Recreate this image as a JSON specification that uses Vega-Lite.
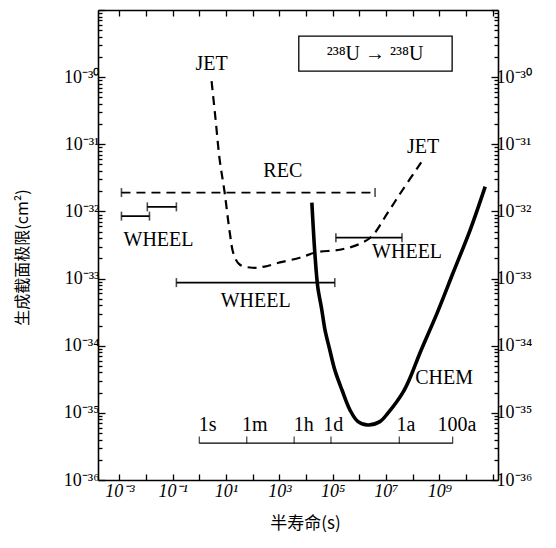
{
  "$schema": "https://vega.github.io/schema/vega-lite/v6.json",
  "width": 400,
  "height": 470,
  "autosize": {"type": "none"},
  "padding": {"left": 98, "top": 10, "right": 58, "bottom": 68},
  "background": "white",
  "config": {
    "view": {"stroke": null},
    "font": "Liberation Serif",
    "axis": {"domainColor": "black", "tickColor": "black", "labelColor": "black", "titleColor": "black", "grid": false, "domainWidth": 1.6, "tickWidth": 1.3, "labelFont": "Liberation Serif", "labelFontSize": 18, "titleFontWeight": "normal"}
  },
  "datasets": {
    "chem": [
      {"t": 1.66e4, "s": 1.35e-32}, {"t": 1.82e4, "s": 6.92e-33}, {"t": 2.14e4, "s": 2.45e-33}, {"t": 2.75e4, "s": 7.59e-34},
      {"t": 3.89e4, "s": 3.47e-34}, {"t": 5.13e4, "s": 1.74e-34}, {"t": 7.76e4, "s": 8.71e-35}, {"t": 1.2e5, "s": 4.37e-35},
      {"t": 2.24e5, "s": 2.19e-35}, {"t": 4.47e5, "s": 1.10e-35}, {"t": 8.91e5, "s": 7.41e-36}, {"t": 2.09e6, "s": 6.61e-36},
      {"t": 5.89e6, "s": 7.41e-36}, {"t": 1.2e7, "s": 1.0e-35}, {"t": 4.37e7, "s": 2.04e-35}, {"t": 7.94e7, "s": 3.31e-35},
      {"t": 1.91e8, "s": 7.94e-35}, {"t": 8.32e8, "s": 3.09e-34}, {"t": 3.31e9, "s": 1.23e-33}, {"t": 1.45e10, "s": 5.37e-33},
      {"t": 5.25e10, "s": 2.34e-32}
    ],
    "jet": [
      {"t": 2.88, "s": 8.71e-31}, {"t": 4.07, "s": 2.34e-31}, {"t": 5.75, "s": 6.03e-32}, {"t": 8.91, "s": 1.91e-32},
      {"t": 13.8, "s": 4.90e-33}, {"t": 19.5, "s": 2.29e-33}, {"t": 32.4, "s": 1.62e-33}, {"t": 100, "s": 1.45e-33},
      {"t": 282, "s": 1.51e-33}, {"t": 1050, "s": 1.74e-33}, {"t": 5890, "s": 2.04e-33}, {"t": 2.34e4, "s": 2.45e-33},
      {"t": 1.86e5, "s": 2.69e-33}, {"t": 9.55e5, "s": 3.24e-33}, {"t": 2.95e6, "s": 4.27e-33}, {"t": 1.2e7, "s": 9.77e-33},
      {"t": 4.37e7, "s": 2.14e-32}, {"t": 2.09e8, "s": 5.37e-32}
    ],
    "ranges": [
      {"name": "REC", "x1": 1.2e-3, "x2": 3.89e6, "y": 1.91e-32, "style": "dashed"},
      {"name": "WHEEL", "x1": 1.2e-3, "x2": 1.35e-2, "y": 8.51e-33, "style": "solid"},
      {"name": "WHEEL", "x1": 1.12e-2, "x2": 0.138, "y": 1.17e-32, "style": "solid"},
      {"name": "WHEEL", "x1": 0.138, "x2": 1.2e5, "y": 8.71e-34, "style": "solid"},
      {"name": "WHEEL", "x1": 1.32e5, "x2": 3.98e7, "y": 4.07e-33, "style": "solid"}
    ],
    "scalebar": [{"x1": 1, "x2": 3.156e9, "y": 3.55e-36}],
    "scaleticks": [
      {"t": 1, "y": 3.55e-36}, {"t": 60, "y": 3.55e-36}, {"t": 3600, "y": 3.55e-36},
      {"t": 86400, "y": 3.55e-36}, {"t": 3.156e7, "y": 3.55e-36}, {"t": 3.156e9, "y": 3.55e-36}
    ],
    "labels": [
      {"text": "JET", "t": 2.9, "s": 1.55e-30},
      {"text": "JET", "t": 2.45e8, "s": 9.02e-32},
      {"text": "REC", "t": 1350, "s": 3.98e-32},
      {"text": "WHEEL", "t": 0.0295, "s": 3.8e-33},
      {"text": "WHEEL", "t": 129, "s": 4.57e-34},
      {"text": "WHEEL", "t": 6.17e7, "s": 2.45e-33},
      {"text": "CHEM", "t": 1.51e9, "s": 3.31e-35},
      {"text": "1s", "t": 2.04, "s": 6.6e-36},
      {"text": "1m", "t": 120, "s": 6.6e-36},
      {"text": "1h", "t": 8300, "s": 6.6e-36},
      {"text": "1d", "t": 1.05e5, "s": 6.6e-36},
      {"text": "1a", "t": 5.6e7, "s": 6.6e-36},
      {"text": "100a", "t": 4.6e9, "s": 6.6e-36},
      {"text": "²³⁸U → ²³⁸U", "t": 3.89e6, "s": 2.19e-30}
    ],
    "box": [{"x1": 5370, "x2": 3.02e9, "y1": 1.23e-30, "y2": 4.07e-30}]
  },
  "resolve": {"axis": {"x": "independent", "y": "independent"}},
  "layer": [
    {
      "data": {"name": "chem"},
      "mark": {"type": "line", "stroke": "black", "strokeWidth": 3.6, "interpolate": "catmull-rom"},
      "encoding": {
        "x": {"field": "t", "type": "quantitative", "scale": {"type": "log", "domain": [1.585e-4, 1.585e11], "nice": false},
          "axis": {"orient": "bottom", "title": "半寿命(s)", "titleFont": "Noto Sans CJK SC", "titleFontSize": 17, "titleX": 207, "titleY": 43, "titleBaseline": "middle",
            "values": [1e-3, 1e-2, 1e-1, 1, 10, 100, 1e3, 1e4, 1e5, 1e6, 1e7, 1e8, 1e9, 1e10, 1e11],
            "labelExpr": "['10⁻³','','10⁻¹','','10¹','','10³','','10⁵','','10⁷','','10⁹','',''][round(log(datum.value)/LN10)+3]",
            "labelFontStyle": "italic", "tickSize": -6, "labelPadding": 8, "labelFlush": false, "labelOverlap": false}},
        "y": {"field": "s", "type": "quantitative", "scale": {"type": "log", "domain": [1e-36, 1e-29], "nice": false},
          "axis": {"orient": "left", "title": "生成截面极限(cm²)", "titleFont": "Noto Sans CJK SC", "titleFontSize": 16, "titleX": -76, "titleY": 247, "titleBaseline": "middle",
            "values": [1e-36, 1e-35, 1e-34, 1e-33, 1e-32, 1e-31, 1e-30, 1e-29],
            "labelExpr": "['10⁻³⁶','10⁻³⁵','10⁻³⁴','10⁻³³','10⁻³²','10⁻³¹','10⁻³⁰',''][round(log(datum.value)/LN10)+36]",
            "tickSize": -7, "labelPadding": 6, "labelFlush": false, "labelOverlap": false}}
      }
    },
    {
      "data": {"name": "jet"},
      "mark": {"type": "line", "stroke": "black", "strokeWidth": 2.2, "strokeDash": [9, 6], "interpolate": "catmull-rom"},
      "encoding": {
        "x": {"field": "t", "type": "quantitative", "axis": {"orient": "top", "title": null, "labels": false, "tickSize": -6,
          "values": [1e-3, 1e-2, 1e-1, 1, 10, 100, 1e3, 1e4, 1e5, 1e6, 1e7, 1e8, 1e9, 1e10, 1e11]}},
        "y": {"field": "s", "type": "quantitative", "axis": {"orient": "left", "title": null, "labels": false, "domain": false, "tickSize": -4,
          "values": [2e-36,3e-36,4e-36,5e-36,6e-36,7e-36,8e-36,9e-36,2e-35,3e-35,4e-35,5e-35,6e-35,7e-35,8e-35,9e-35,2e-34,3e-34,4e-34,5e-34,6e-34,7e-34,8e-34,9e-34,2e-33,3e-33,4e-33,5e-33,6e-33,7e-33,8e-33,9e-33,2e-32,3e-32,4e-32,5e-32,6e-32,7e-32,8e-32,9e-32,2e-31,3e-31,4e-31,5e-31,6e-31,7e-31,8e-31,9e-31,2e-30,3e-30,4e-30,5e-30,6e-30,7e-30,8e-30,9e-30]}}
      }
    },
    {
      "data": {"name": "ranges"},
      "mark": {"type": "rule", "color": "black", "strokeWidth": 1.7},
      "encoding": {
        "x": {"field": "x1", "type": "quantitative", "axis": null},
        "x2": {"field": "x2"},
        "y": {"field": "y", "type": "quantitative", "axis": {"orient": "right", "title": null,
          "values": [1e-36, 1e-35, 1e-34, 1e-33, 1e-32, 1e-31, 1e-30, 1e-29],
          "labelExpr": "['10⁻³⁶','10⁻³⁵','10⁻³⁴','10⁻³³','10⁻³²','10⁻³¹','10⁻³⁰',''][round(log(datum.value)/LN10)+36]",
          "tickSize": -7, "labelPadding": 5, "labelFlush": false, "labelOverlap": false}},
        "strokeDash": {"field": "style", "type": "nominal", "scale": {"domain": ["solid", "dashed"], "range": [[1, 0], [9, 6]]}, "legend": null}
      }
    },
    {
      "data": {"name": "ranges"},
      "transform": [{"fold": ["x1", "x2"], "as": ["end", "xv"]}],
      "mark": {"type": "tick", "orient": "vertical", "color": "black", "size": 9, "thickness": 1.6},
      "encoding": {
        "x": {"field": "xv", "type": "quantitative", "axis": null},
        "y": {"field": "y", "type": "quantitative", "axis": {"orient": "right", "title": null, "labels": false, "domain": false, "tickSize": -4,
          "values": [2e-36,3e-36,4e-36,5e-36,6e-36,7e-36,8e-36,9e-36,2e-35,3e-35,4e-35,5e-35,6e-35,7e-35,8e-35,9e-35,2e-34,3e-34,4e-34,5e-34,6e-34,7e-34,8e-34,9e-34,2e-33,3e-33,4e-33,5e-33,6e-33,7e-33,8e-33,9e-33,2e-32,3e-32,4e-32,5e-32,6e-32,7e-32,8e-32,9e-32,2e-31,3e-31,4e-31,5e-31,6e-31,7e-31,8e-31,9e-31,2e-30,3e-30,4e-30,5e-30,6e-30,7e-30,8e-30,9e-30]}}
      }
    },
    {
      "data": {"name": "scalebar"},
      "mark": {"type": "rule", "color": "black", "strokeWidth": 1.3},
      "encoding": {
        "x": {"field": "x1", "type": "quantitative", "axis": null},
        "x2": {"field": "x2"},
        "y": {"field": "y", "type": "quantitative", "axis": null}
      }
    },
    {
      "data": {"name": "scaleticks"},
      "mark": {"type": "tick", "orient": "vertical", "color": "black", "size": 7, "thickness": 1.3, "yOffset": -3},
      "encoding": {
        "x": {"field": "t", "type": "quantitative", "axis": null},
        "y": {"field": "y", "type": "quantitative", "axis": null}
      }
    },
    {
      "data": {"name": "box"},
      "mark": {"type": "rect", "fill": null, "fillOpacity": 0, "stroke": "black", "strokeWidth": 1.3},
      "encoding": {
        "x": {"field": "x1", "type": "quantitative", "axis": null},
        "x2": {"field": "x2"},
        "y": {"field": "y1", "type": "quantitative", "axis": null},
        "y2": {"field": "y2"}
      }
    },
    {
      "data": {"name": "labels"},
      "mark": {"type": "text", "font": "Liberation Serif", "fontSize": 20, "color": "black", "align": "center", "baseline": "middle"},
      "encoding": {
        "x": {"field": "t", "type": "quantitative", "axis": null},
        "y": {"field": "s", "type": "quantitative", "axis": null},
        "text": {"field": "text"}
      }
    }
  ]
}
